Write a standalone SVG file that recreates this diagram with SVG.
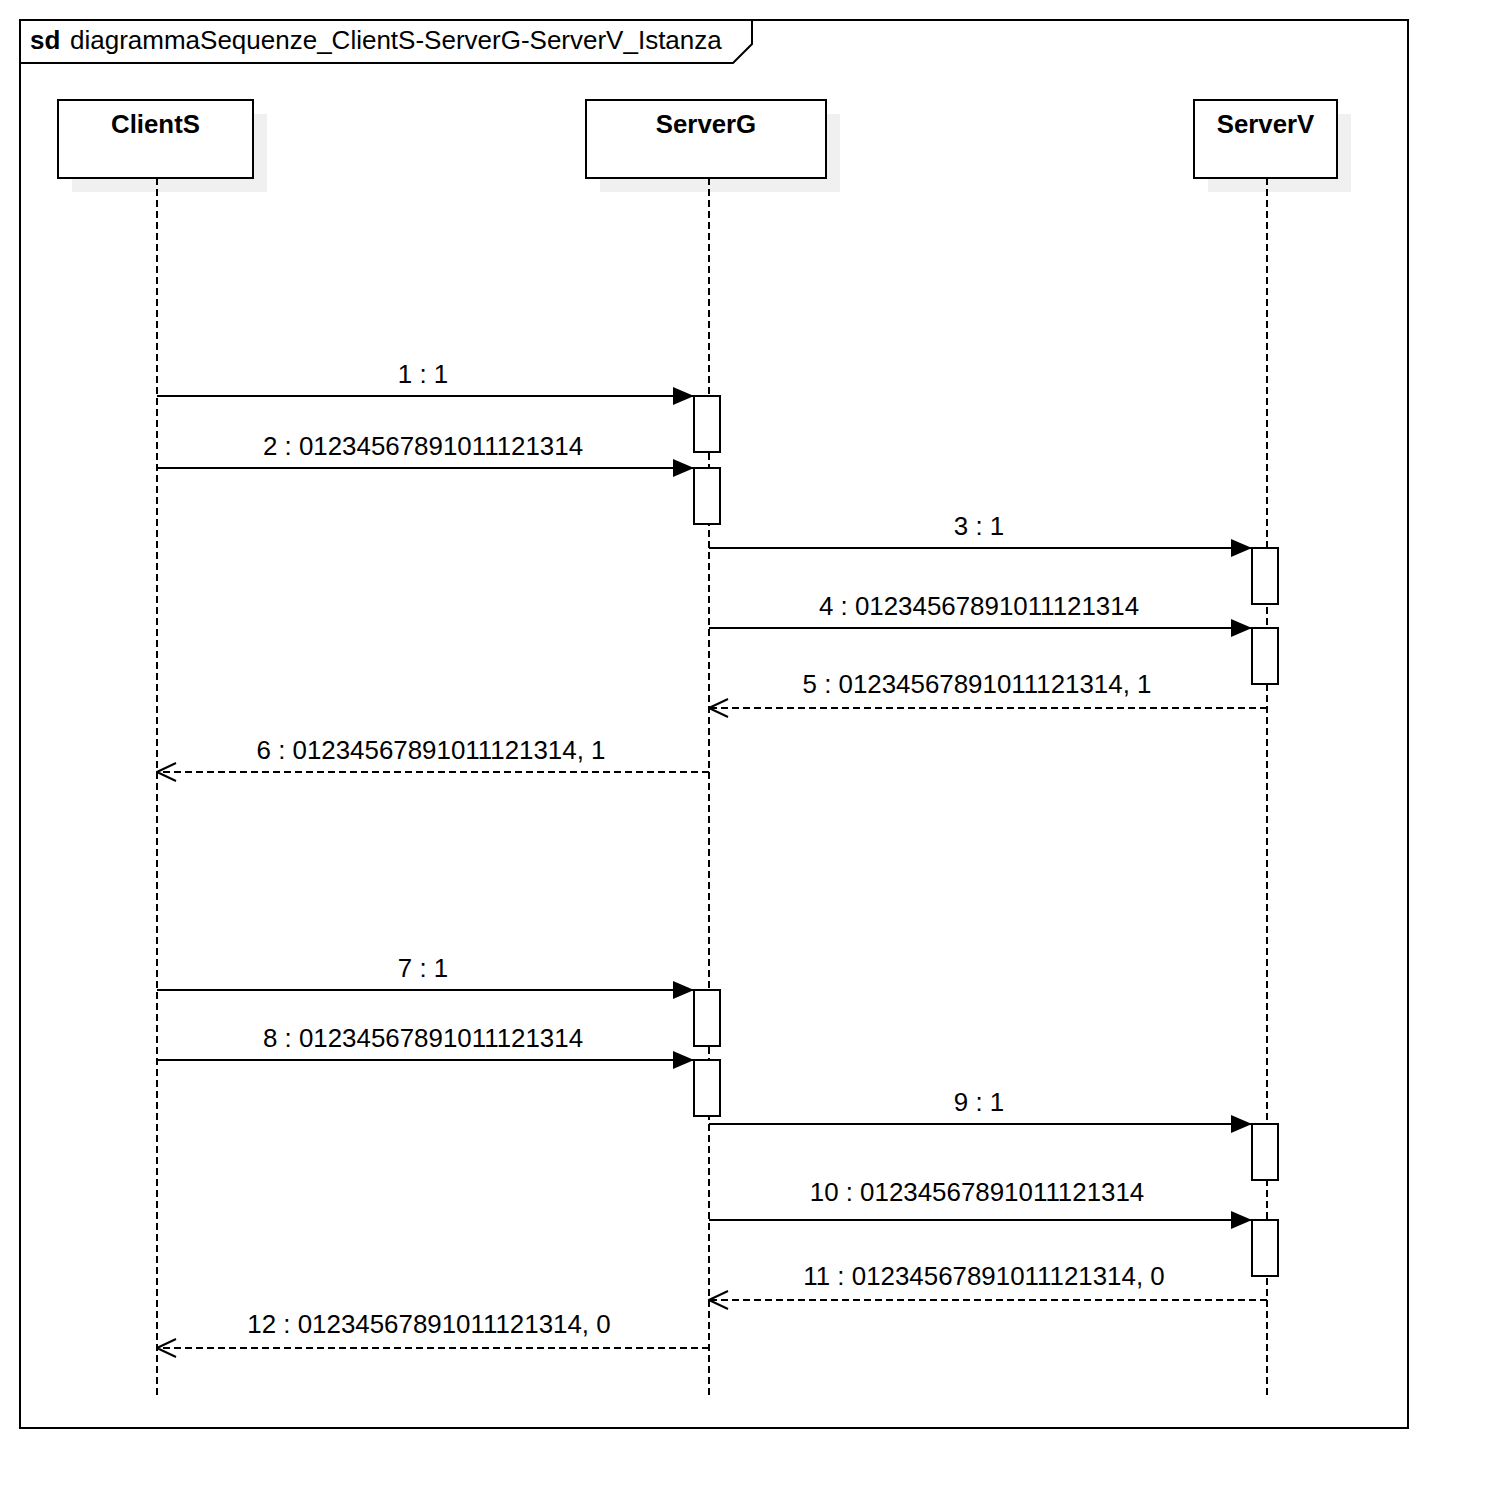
<svg xmlns="http://www.w3.org/2000/svg" width="1488" height="1508" viewBox="0 0 1488 1508">
<defs>
<style>
.frame{fill:none;stroke:#000;stroke-width:2}
.box{fill:#fff;stroke:#000;stroke-width:2}
.shadow{fill:#f0f0f0;stroke:none}
.life{stroke:#000;stroke-width:2;stroke-dasharray:7 4;fill:none}
.msg{stroke:#000;stroke-width:2;fill:none}
.ret{stroke:#000;stroke-width:2;stroke-dasharray:7 4;fill:none}
.act{fill:#fff;stroke:#000;stroke-width:2}
.name{font-family:"Liberation Sans",Arial,sans-serif;font-size:25.8px;font-weight:bold;text-anchor:middle;fill:#000}
.lbl{font-family:"Liberation Sans",Arial,sans-serif;font-size:25.9px;text-anchor:middle;fill:#000}
.title{font-family:"Liberation Sans",Arial,sans-serif;font-size:26px;fill:#000}
</style>
<marker id="filled" viewBox="0 0 21 18" refX="21" refY="9" markerWidth="21" markerHeight="18" markerUnits="userSpaceOnUse" orient="auto">
<path d="M0,0 L21,9 L0,18 Z" fill="#000"/>
</marker>
<marker id="open" viewBox="0 0 22 22" refX="21" refY="11" markerWidth="22" markerHeight="22" markerUnits="userSpaceOnUse" orient="auto">
<path d="M2,2 L21,11 L2,20" fill="none" stroke="#000" stroke-width="2"/>
</marker>
</defs>
<rect width="1488" height="1508" fill="#fff"/>
<g id="frame">
<rect class="frame" x="20" y="20" width="1388" height="1408"/>
<path class="frame" d="M20,63 L733,63 L752,44 L752,20"/>
<text class="title" x="30" y="49"><tspan font-weight="bold">sd</tspan><tspan x="70">diagrammaSequenze_ClientS-ServerG-ServerV_Istanza</tspan></text>
</g>
<g id="ClientS">
<rect class="shadow" x="72" y="114" width="195" height="78"/>
<rect class="box" x="58" y="100" width="195" height="78"/>
<text class="name" x="155.5" y="133">ClientS</text>
<line class="life" x1="157" y1="178" x2="157" y2="1395"/>
</g>
<g id="ServerG">
<rect class="shadow" x="600" y="114" width="240" height="78"/>
<rect class="box" x="586" y="100" width="240" height="78"/>
<text class="name" x="706" y="133">ServerG</text>
<line class="life" x1="709" y1="178" x2="709" y2="1395"/>
<rect class="act" x="694" y="396" width="26" height="56"/>
<rect class="act" x="694" y="468" width="26" height="56"/>
<rect class="act" x="694" y="990" width="26" height="56"/>
<rect class="act" x="694" y="1060" width="26" height="56"/>
</g>
<g id="ServerV">
<rect class="shadow" x="1208" y="114" width="143" height="78"/>
<rect class="box" x="1194" y="100" width="143" height="78"/>
<text class="name" x="1265.5" y="133">ServerV</text>
<line class="life" x1="1267" y1="178" x2="1267" y2="1395"/>
<rect class="act" x="1252" y="548" width="26" height="56"/>
<rect class="act" x="1252" y="628" width="26" height="56"/>
<rect class="act" x="1252" y="1124" width="26" height="56"/>
<rect class="act" x="1252" y="1220" width="26" height="56"/>
</g>
<g id="connectors">
<line class="msg" x1="157" y1="396" x2="694" y2="396" marker-end="url(#filled)"/>
<text class="lbl" x="423" y="383">1 : 1</text>
<line class="msg" x1="157" y1="468" x2="694" y2="468" marker-end="url(#filled)"/>
<text class="lbl" x="423" y="455">2 : 01234567891011121314</text>
<line class="msg" x1="709" y1="548" x2="1252" y2="548" marker-end="url(#filled)"/>
<text class="lbl" x="979" y="535">3 : 1</text>
<line class="msg" x1="709" y1="628" x2="1252" y2="628" marker-end="url(#filled)"/>
<text class="lbl" x="979" y="615">4 : 01234567891011121314</text>
<line class="ret" x1="1267" y1="708" x2="709" y2="708" marker-end="url(#open)"/>
<text class="lbl" x="977" y="693">5 : 01234567891011121314, 1</text>
<line class="ret" x1="709" y1="772" x2="157" y2="772" marker-end="url(#open)"/>
<text class="lbl" x="431" y="759">6 : 01234567891011121314, 1</text>
<line class="msg" x1="157" y1="990" x2="694" y2="990" marker-end="url(#filled)"/>
<text class="lbl" x="423" y="977">7 : 1</text>
<line class="msg" x1="157" y1="1060" x2="694" y2="1060" marker-end="url(#filled)"/>
<text class="lbl" x="423" y="1047">8 : 01234567891011121314</text>
<line class="msg" x1="709" y1="1124" x2="1252" y2="1124" marker-end="url(#filled)"/>
<text class="lbl" x="979" y="1111">9 : 1</text>
<line class="msg" x1="709" y1="1220" x2="1252" y2="1220" marker-end="url(#filled)"/>
<text class="lbl" x="977" y="1201">10 : 01234567891011121314</text>
<line class="ret" x1="1267" y1="1300" x2="709" y2="1300" marker-end="url(#open)"/>
<text class="lbl" x="984" y="1285">11 : 01234567891011121314, 0</text>
<line class="ret" x1="709" y1="1348" x2="157" y2="1348" marker-end="url(#open)"/>
<text class="lbl" x="429" y="1333">12 : 01234567891011121314, 0</text>
</g>
</svg>
